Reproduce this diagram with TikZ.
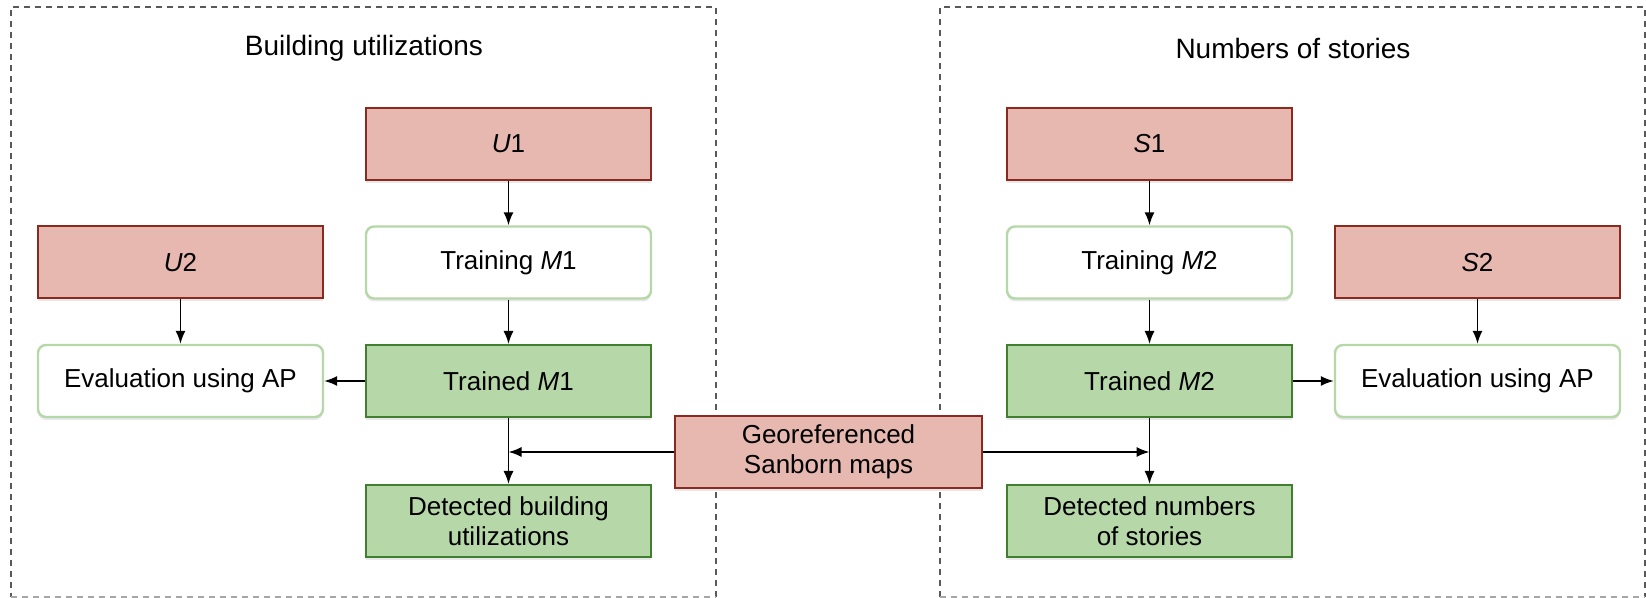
\documentclass[tikz,border=0pt]{standalone}
\usepackage{fontspec}
\setmainfont{Liberation Sans}
\usetikzlibrary{arrows.meta,shadows}
\definecolor{redfill}{HTML}{E6B8AF}
\definecolor{redline}{HTML}{8A2A1E}
\definecolor{greenfill}{HTML}{B6D7A8}
\definecolor{greenline}{HTML}{3F7F2F}
\definecolor{lightgreen}{HTML}{B6D7A8}
\begin{document}
\begin{tikzpicture}[x=0.5pt,y=-0.5pt,
  base/.style={minimum width=142.5pt, minimum height=36pt, inner sep=0pt, align=center,
    font=\fontsize{13}{15}\selectfont,
    drop shadow={shadow xshift=0pt, shadow yshift=-1.5pt, opacity=0.18}},
  redbox/.style={base, fill=redfill, draw=redline, line width=1pt},
  greenbox/.style={base, fill=greenfill, draw=greenline, line width=1pt},
  whitebox/.style={base, fill=white, draw=lightgreen, line width=1.2pt, rounded corners=4pt},
  arr/.style={-{Latex[length=6.5pt,width=5pt]}, line width=0.8pt},
  frame/.style={dash pattern=on 3pt off 2.5pt, line width=0.6pt, draw=black!65},
  framelight/.style={dash pattern=on 3pt off 2.5pt, line width=0.6pt, draw=black!35},
  title/.style={font=\fontsize{14}{16}\selectfont}]
\useasboundingbox (0,0) rectangle (1646,598);
% frames
\draw[frame] (716,597) -- (716,7) -- (11,7) -- (11,597);
\draw[framelight] (11,597) -- (716,597);
\draw[frame] (940,597) -- (940,7) -- (1645,7) -- (1645,597);
\draw[framelight] (940,597) -- (1645,597);
\node[title] (t1) at (364,48) {Building utilizations};
\node[title] (t2) at (1293,48) {Numbers of stories};
% left
\node[redbox] (u1) at (508.5,144) {\textit{U}1};
\node[whitebox] (tr1) at (508.5,262.5) {Training \textit{M}1};
\node[greenbox] (tm1) at (508.5,381) {Trained \textit{M}1};
\node[greenbox] (d1) at (508.5,521) {Detected building\\utilizations};
\node[redbox] (u2) at (180.5,262.5) {\textit{U}2};
\node[whitebox] (e1) at (180.5,381) {Evaluation using AP};
% right
\node[redbox] (s1) at (1149.5,144) {\textit{S}1};
\node[whitebox] (tr2) at (1149.5,262.5) {Training \textit{M}2};
\node[greenbox] (tm2) at (1149.5,381) {Trained \textit{M}2};
\node[greenbox] (d2) at (1149.5,521) {Detected numbers\\of stories};
\node[redbox] (s2) at (1477.5,262.5) {\textit{S}2};
\node[whitebox] (e2) at (1477.5,381) {Evaluation using AP};
% middle
\node[redbox, minimum width=153.5pt] (geo) at (828.5,452) {Georeferenced\\Sanborn maps};
% arrows
\draw[arr] (u1) -- (tr1);
\draw[arr] (tr1) -- (tm1);
\draw[arr] (tm1) -- (d1);
\draw[arr] (u2) -- (e1);
\draw[arr] (tm1) -- (e1);
\draw[arr] (geo.west) -- (geo.west -| tm1);
\draw[arr] (s1) -- (tr2);
\draw[arr] (tr2) -- (tm2);
\draw[arr] (tm2) -- (d2);
\draw[arr] (s2) -- (e2);
\draw[arr] (tm2) -- (e2);
\draw[arr] (geo.east) -- (geo.east -| tm2);
\end{tikzpicture}
\end{document}
